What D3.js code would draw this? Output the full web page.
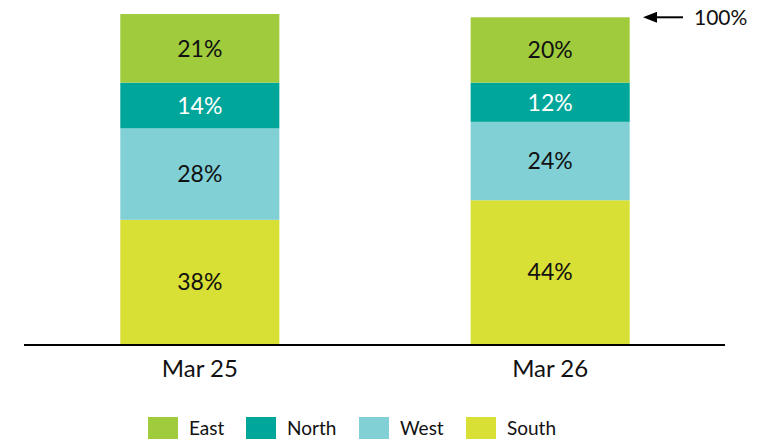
<!DOCTYPE html>
<html>
<head>
<meta charset="utf-8">
<script src="https://cdn.jsdelivr.net/npm/d3@7"></script>
<style>
  body { margin: 0; background: #fff; }
  svg { display: block; font-family: Lato, "Open Sans", sans-serif; }
</style>
</head>
<body>
<svg></svg>
<script>
const width = 769;
const height = 442;

// data
const categories = ["Mar 25", "Mar 26"];
const regions = ["South", "West", "North", "East"];
const south = [38, 44];
const west = [28, 24];
const north = [14, 12];
const east = [21, 20];
const legendOrder = ["East", "North", "West", "South"];

const colors = {
  East: "#9fcb3c",
  North: "#00a69a",
  West: "#80d0d6",
  South: "#d8df35"
};
const labelColors = { East: "#111", North: "#fff", West: "#111", South: "#111" };

const svg = d3.select("svg").attr("width", width).attr("height", height);

// build rows for the stack
const rows = categories.map((c, i) => ({
  cat: c,
  South: south[i],
  West: west[i],
  North: north[i],
  East: east[i]
}));

const stacked = d3.stack().keys(regions)(rows);

const xScale = d3.scaleBand()
  .domain(categories)
  .range([25, 725])
  .paddingInner(0.546)
  .paddingOuter(0.272);

const yScale = d3.scaleLinear()
  .domain([0, 100])
  .range([344, 17.3]);

// bars
const layers = svg.selectAll("g.layer")
  .data(stacked)
  .enter()
  .append("g")
  .attr("class", "layer")
  .attr("fill", (d) => colors[d.key]);

layers.selectAll("rect")
  .data((d) => d)
  .enter()
  .append("rect")
  .attr("x", (d) => xScale(d.data.cat))
  .attr("width", xScale.bandwidth())
  .attr("y", (d) => yScale(d[1]))
  .attr("height", (d) => yScale(d[0]) - yScale(d[1]));

// value labels
stacked.forEach((layer) => {
  svg.append("g")
    .selectAll("text")
    .data(layer)
    .enter()
    .append("text")
    .attr("x", (d) => xScale(d.data.cat) + xScale.bandwidth() / 2)
    .attr("y", (d) => (yScale(d[0]) + yScale(d[1])) / 2)
    .attr("dy", "0.36em")
    .attr("text-anchor", "middle")
    .attr("font-size", 23)
    .attr("fill", labelColors[layer.key])
    .text((d) => d.data[layer.key] + "%");
});

// x axis
const xAxis = d3.axisBottom(xScale).tickSize(0).tickPadding(16);
const gx = svg.append("g")
  .attr("transform", "translate(0," + yScale(0) + ")")
  .call(xAxis);
gx.select(".domain").attr("stroke", "#000").attr("stroke-width", 2)
  .attr("d", "M24,1H725");
gx.selectAll(".tick text")
  .attr("font-size", 24)
  .attr("font-family", "Lato, sans-serif")
  .attr("fill", "#111");

// 100% marker arrow
const arrowY = yScale(100);
svg.append("defs").append("marker")
  .attr("id", "head")
  .attr("viewBox", "0 0 14 11")
  .attr("refX", 1)
  .attr("refY", 5.5)
  .attr("markerWidth", 7)
  .attr("markerHeight", 5.5)
  .attr("markerUnits", "strokeWidth")
  .attr("orient", "auto")
  .append("path")
  .attr("d", "M0,0L14,5.5L0,11z")
  .attr("fill", "#000");

svg.append("line")
  .attr("x1", 683)
  .attr("x2", 656)
  .attr("y1", arrowY)
  .attr("y2", arrowY)
  .attr("stroke", "#000")
  .attr("stroke-width", 2)
  .attr("marker-end", "url(#head)");

svg.append("text")
  .attr("x", 694)
  .attr("y", arrowY)
  .attr("dy", "0.36em")
  .attr("font-size", 21)
  .attr("fill", "#111")
  .text("100%");

// legend
const legendX = [148, 246, 359, 466];
const legend = svg.append("g")
  .selectAll("g")
  .data(legendOrder)
  .enter()
  .append("g")
  .attr("transform", (d, i) => "translate(" + legendX[i] + ",417)");

legend.append("rect")
  .attr("width", 30)
  .attr("height", 22)
  .attr("fill", (d) => colors[d]);

legend.append("text")
  .attr("x", 41)
  .attr("y", 11)
  .attr("dy", "0.36em")
  .attr("font-size", 19)
  .attr("fill", "#111")
  .text((d) => d);
</script>
</body>
</html>
